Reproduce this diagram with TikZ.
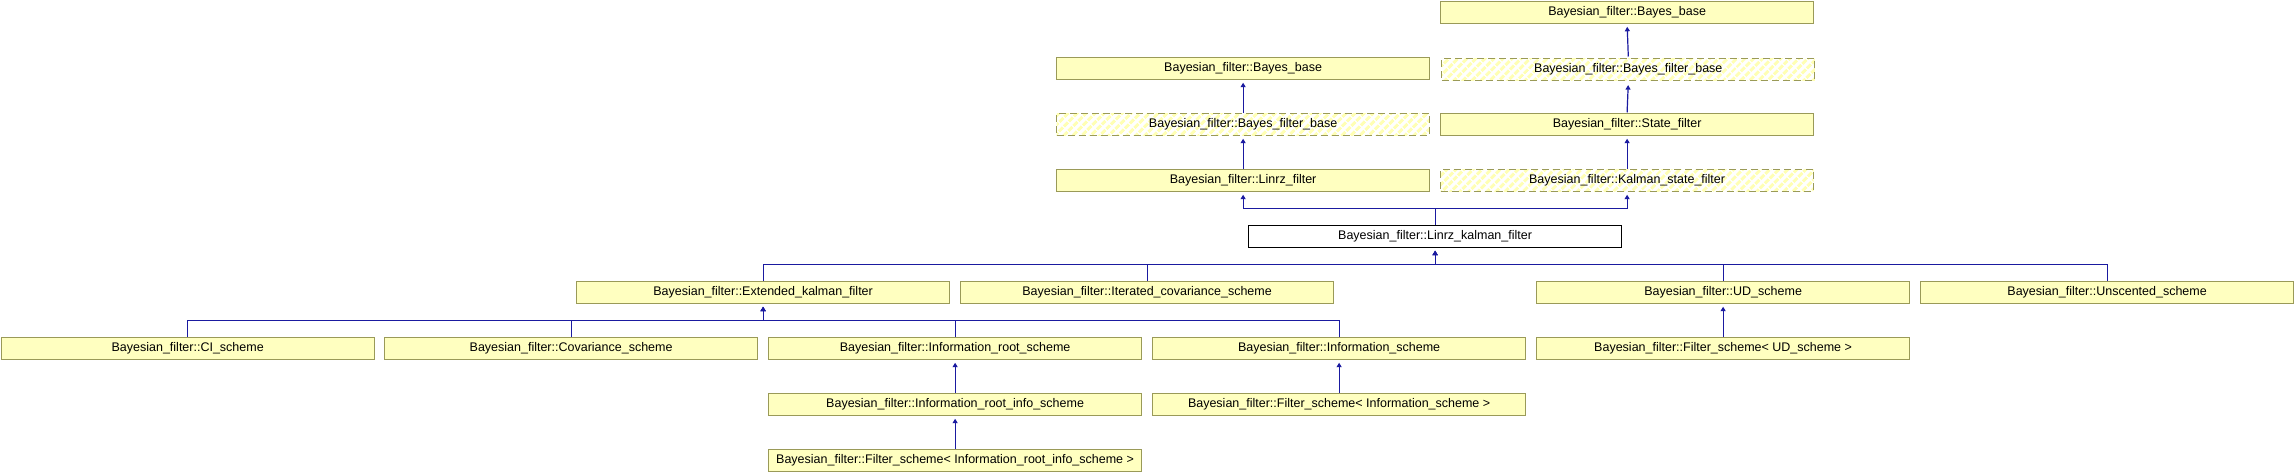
\documentclass[tikz,border=0pt]{standalone}
\usepackage{fontspec}
\setmainfont{Liberation Sans}
\usetikzlibrary{arrows.meta,patterns.meta}
\definecolor{boxfill}{HTML}{FFFFC0}
\definecolor{hatchfill}{HTML}{FFFFB4}
\definecolor{boxline}{HTML}{9A9A58}
\definecolor{edgeblue}{HTML}{1A1AA0}
\begin{document}
\begin{tikzpicture}[x=1pt,y=-1pt,
  cls/.style={draw=boxline, fill=boxfill, line width=1.2pt, minimum width=373pt, minimum height=22pt,
    inner sep=0pt, anchor=north west, font=\fontsize{12.5pt}{14pt}\selectfont},
  hatched/.style={cls, fill=none, dash pattern=on 7pt off 4pt,
    pattern={Lines[angle=45,distance=6.4pt,line width=3.6pt]}, pattern color=hatchfill},
  focus/.style={cls, draw=black, fill=white},
  inh/.style={draw=edgeblue, line width=1.2pt, -{Triangle[length=4.5pt,width=5pt]}, shorten >=3pt}
]
\useasboundingbox (0,0) rectangle (2294,472);
% row 0
\node[cls] (bb0) at (1440,0.6) {Bayesian\_filter::Bayes\_base};
% row 1
\node[cls] (bb1) at (1056,56.5) {Bayesian\_filter::Bayes\_base};
\node[hatched] (bfb1) at (1440,56.5) {Bayesian\_filter::Bayes\_filter\_base};
% row 2
\node[hatched] (bfb2) at (1056,112.5) {Bayesian\_filter::Bayes\_filter\_base};
\node[cls] (sf) at (1440,112.5) {Bayesian\_filter::State\_filter};
% row 3
\node[cls] (lf) at (1056,168.5) {Bayesian\_filter::Linrz\_filter};
\node[hatched] (ksf) at (1440,168.5) {Bayesian\_filter::Kalman\_state\_filter};
% row 4
\node[focus] (lkf) at (1248,224.5) {Bayesian\_filter::Linrz\_kalman\_filter};
% row 5
\node[cls] (ekf) at (576,280.5) {Bayesian\_filter::Extended\_kalman\_filter};
\node[cls] (ics) at (960,280.5) {Bayesian\_filter::Iterated\_covariance\_scheme};
\node[cls] (ud) at (1536,280.5) {Bayesian\_filter::UD\_scheme};
\node[cls] (uns) at (1920,280.5) {Bayesian\_filter::Unscented\_scheme};
% row 6
\node[cls] (ci) at (0.6,336.5) {Bayesian\_filter::CI\_scheme};
\node[cls] (cov) at (384,336.5) {Bayesian\_filter::Covariance\_scheme};
\node[cls] (irs) at (768,336.5) {Bayesian\_filter::Information\_root\_scheme};
\node[cls] (ins) at (1152,336.5) {Bayesian\_filter::Information\_scheme};
\node[cls] (fsud) at (1536,336.5) {Bayesian\_filter::Filter\_scheme< UD\_scheme >};
% row 7
\node[cls] (iris) at (768,392.5) {Bayesian\_filter::Information\_root\_info\_scheme};
\node[cls] (fsins) at (1152,392.5) {Bayesian\_filter::Filter\_scheme< Information\_scheme >};
% row 8
\node[cls] (fsiris) at (768,448.5) {Bayesian\_filter::Filter\_scheme< Information\_root\_info\_scheme >};
% edges
\draw[inh] (bfb1.north) -- (bb0.south);
\draw[inh] (sf.north) -- (bfb1.south);
\draw[inh] (ksf.north) -- (sf.south);
\draw[inh] (bfb2.north) -- (bb1.south);
\draw[inh] (lf.north) -- (bfb2.south);
\draw[inh] (lkf.north) -- ++(0,-16) -| (lf.south);
\draw[inh] (lkf.north) -- ++(0,-16) -| (ksf.south);
\foreach \c in {ekf,ics,ud,uns} {\draw[inh] (\c.north) -- ++(0,-16) -| (lkf.south);}
\foreach \c in {ci,cov,irs,ins} {\draw[inh] (\c.north) -- ++(0,-16) -| (ekf.south);}
\draw[inh] (fsud.north) -- (ud.south);
\draw[inh] (iris.north) -- (irs.south);
\draw[inh] (fsins.north) -- (ins.south);
\draw[inh] (fsiris.north) -- (iris.south);
\end{tikzpicture}
\end{document}
